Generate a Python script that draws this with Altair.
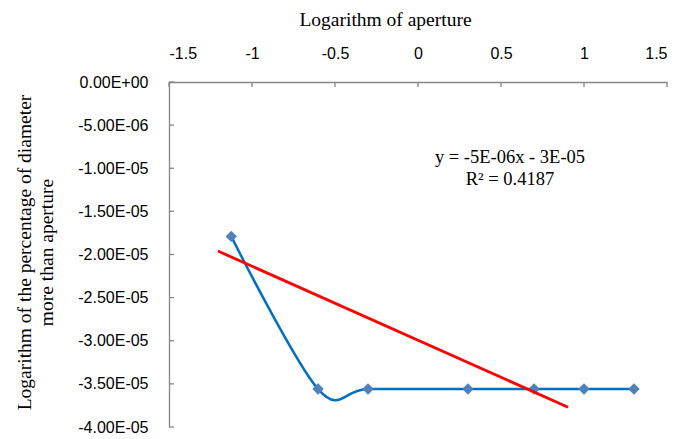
import altair as alt
import pandas as pd

# Data
x_vals = [-1.125, -0.602, -0.301, 0.301, 0.699, 1.0, 1.301]
y_vals = [-1.79e-5, -3.56e-5, -3.56e-5, -3.56e-5, -3.56e-5, -3.56e-5, -3.56e-5]
trend_x = [-1.205, 0.904]
trend_y = [-1.96e-5, -3.77e-5]
x_ticks = [-1.5, -1.0, -0.5, 0.0, 0.5, 1.0, 1.5]
y_ticks = [0.0, -5e-6, -1e-5, -1.5e-5, -2e-5, -2.5e-5, -3e-5, -3.5e-5, -4e-5]
equation = ["y = -5E-06x - 3E-05\nR\u00b2 = 0.4187"]

pts = pd.DataFrame({"x": x_vals, "y": y_vals})
trend = pd.DataFrame({"x": trend_x, "y": trend_y})
xt = pd.DataFrame({"x": x_ticks})
yt = pd.DataFrame({"y": y_ticks})
eqdf = pd.DataFrame({"t": equation})

AX = "#868686"
xscale = alt.Scale(domain=[-1.5, 1.5], nice=False, zero=False)
yscale = alt.Scale(domain=[-4e-5, 0], nice=False, zero=False)

e_expr = "floor(log(abs(datum.value))/LN10 + 1e-9)"
ylabel = (
    "datum.value == 0 ? '0.00E+00' : "
    "(datum.value < 0 ? '-' : '') + format(abs(datum.value) / pow(10, " + e_expr + "), '.2f') + 'E' + "
    "(" + e_expr + " < 0 ? '-' : '+') + (abs(" + e_expr + ") < 10 ? '0' : '') + toString(abs(" + e_expr + "))"
)

x_axis = alt.Axis(
    orient="top", values=x_ticks, labelExpr="toString(datum.value)",
    grid=False, ticks=False, domainColor=AX, domainWidth=1.3,
    labelFont="Liberation Sans", labelFontSize=16, labelColor="black",
    labelPadding=24, labelBaseline="alphabetic",
    title="Logarithm of aperture", titleFont="Liberation Serif", titleFontSize=19.5,
    titleFontWeight="normal", titleColor="black", titleX=216, titleY=-57,
    titleAlign="center", titleBaseline="alphabetic",
)
y_axis = alt.Axis(
    orient="left", values=y_ticks, labelExpr=ylabel,
    grid=False, ticks=False, domainColor=AX, domainWidth=1.3,
    labelFont="Liberation Sans", labelFontSize=16, labelColor="black",
    labelPadding=21,
    title=["Logarithm of the percentage of diameter", "more than aperture"],
    titleFont="Liberation Serif", titleFontSize=19.5, titleFontWeight="normal",
    titleColor="black", titleAngle=270, titleX=-154, titleY=170,
    titleAlign="center", titleBaseline="top", titleLineHeight=22,
)

X = alt.X("x:Q", scale=xscale, axis=x_axis)
Y = alt.Y("y:Q", scale=yscale, axis=y_axis)

line = alt.Chart(pts).mark_line(interpolate="cardinal", color="#0070C0", strokeWidth=2.5).encode(x=X, y=Y)
points = alt.Chart(pts).mark_point(shape="diamond", filled=True, size=130, color="#4F81BD", opacity=1).encode(x=X, y=Y)
trendline = alt.Chart(trend).mark_line(color="#FF0000", strokeWidth=2.8).encode(x=X, y=Y)
xticks = alt.Chart(xt).mark_rule(color=AX, strokeWidth=1.3).encode(
    x=X, y=alt.value(0), y2=alt.value(5),
)
yticks = alt.Chart(yt).mark_rule(color=AX, strokeWidth=1.3).encode(
    y=Y, x=alt.value(0), x2=alt.value(5),
)
eq = alt.Chart(eqdf).mark_text(
    font="Liberation Serif", fontSize=18.5, align="center", baseline="alphabetic",
    lineBreak="\n", lineHeight=22, color="black",
).encode(x=alt.value(341), y=alt.value(81), text="t:N")

chart = alt.layer(line, points, trendline, xticks, yticks, eq).properties(
    width=498, height=345,
    autosize=alt.AutoSizeParams(type="none"),
    padding={"left": 161, "top": 74, "right": 7, "bottom": 12},
    background="white",
).configure_view(stroke=None)

chart.save("out.html", embed_options={"renderer": "svg", "actions": False})
